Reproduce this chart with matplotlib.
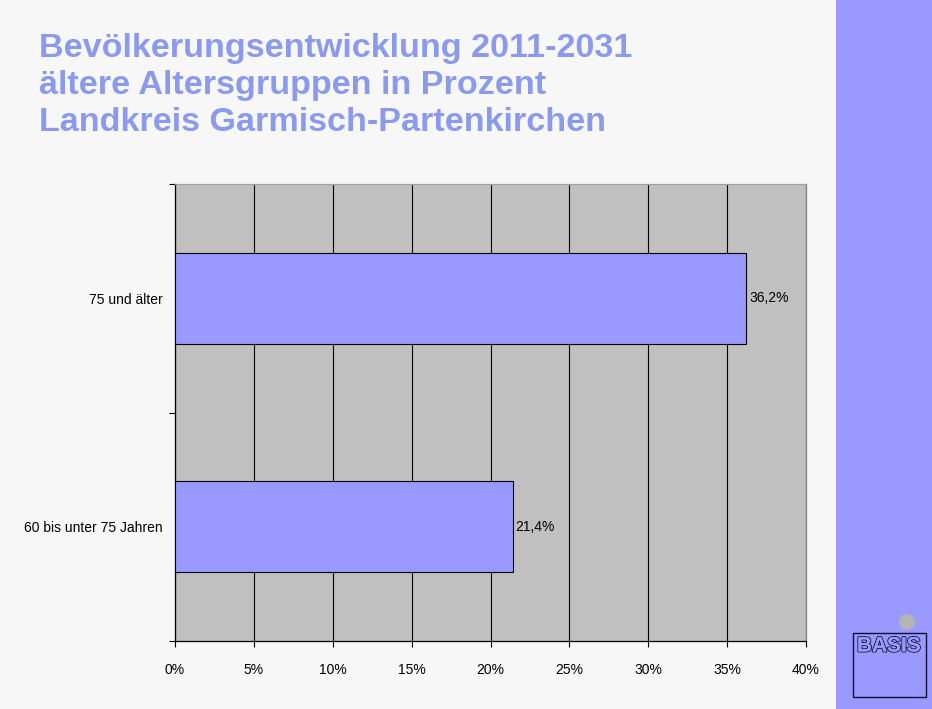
import matplotlib.pyplot as plt
import matplotlib.patheffects as pe
from matplotlib.patches import Rectangle, Circle
from matplotlib.ticker import FuncFormatter

# Altersgruppen und Anteile (Prozent)
groups = ["60 bis unter 75 Jahren", "75 und älter"]
values = [21.4, 36.2]
value_labels = ["21,4%", "36,2%"]
x_ticks = [0, 5, 10, 15, 20, 25, 30, 35, 40]

title_lines = ["Bevölkerungsentwicklung 2011-2031",
               "ältere Altersgruppen in Prozent",
               "Landkreis Garmisch-Partenkirchen"]

plt.rcParams['font.family'] = ['Liberation Sans', 'DejaVu Sans']

W, H = 932, 709
fig = plt.figure(figsize=(W / 100, H / 100), dpi=100)
fig.patch.set_facecolor('#f7f7f7')

# Hilfsachse in Pixelkoordinaten für Streifen, Titel und Logo
bg = fig.add_axes([0, 0, 1, 1], zorder=0)
bg.set_xlim(0, W)
bg.set_ylim(H, 0)
bg.axis('off')

bg.add_patch(Rectangle((836, 0), W - 836, H, facecolor='#9999ff', edgecolor='none'))

for i, line in enumerate(title_lines):
    bg.text(39, 57 + i * 37, line, fontsize=24.6, fontweight='bold',
            color='#8c9aee', ha='left', va='baseline')

# Logo
bg.add_patch(Circle((907, 622), 8, facecolor='#b4b4b4', edgecolor='none'))
bg.add_patch(Rectangle((853, 633), 73, 64, facecolor='none',
                       edgecolor='#111133', linewidth=1.0))
t = bg.text(889, 646, "BASIS", fontsize=15, ha='center', va='center',
            color='#9999ff', fontweight='bold', fontstretch='condensed')
t.set_path_effects([pe.withStroke(linewidth=1.4, foreground='#111133'), pe.Normal()])

# Diagrammfläche
x0, x1, y0, y1 = 175, 806, 184, 641
ax = fig.add_axes([x0 / W, 1 - y1 / H, (x1 - x0) / W, (y1 - y0) / H], zorder=1)
ax.set_facecolor('#c0c0c0')

ypos = list(range(len(groups)))
bars = ax.barh(ypos, values, height=0.4, color='#9999ff', edgecolor='black',
               linewidth=0.8, zorder=3)
for b, lab in zip(bars, value_labels):
    ax.text(b.get_width() + 0.2, b.get_y() + b.get_height() / 2, lab,
            va='center', ha='left', fontsize=10, color='black', zorder=4)

ax.set_xlim(0, 40)
ax.set_ylim(-0.5, len(groups) - 0.5)
ax.set_xticks(x_ticks)
ax.xaxis.set_major_formatter(FuncFormatter(lambda v, p: f"{int(v)}%"))
ax.xaxis.grid(True, color='black', linewidth=0.8, zorder=1)
ax.set_axisbelow(True)

ax.set_yticks(ypos)
ax.set_yticklabels(groups)
ax.set_yticks([-0.5, 0.5, 1.5], minor=True)
ax.tick_params(axis='y', which='major', length=0, pad=9, labelsize=10)
ax.tick_params(axis='y', which='minor', length=4, width=0.8, direction='out')
ax.tick_params(axis='x', length=4, width=0.8, direction='out', pad=12, labelsize=10)

ax.spines['left'].set_color('black')
ax.spines['bottom'].set_color('black')
ax.spines['top'].set_color('#a0a0a0')
ax.spines['right'].set_color('#808080')
for s in ax.spines.values():
    s.set_linewidth(0.9)

fig.savefig('out.png', dpi=100, facecolor=fig.get_facecolor())
